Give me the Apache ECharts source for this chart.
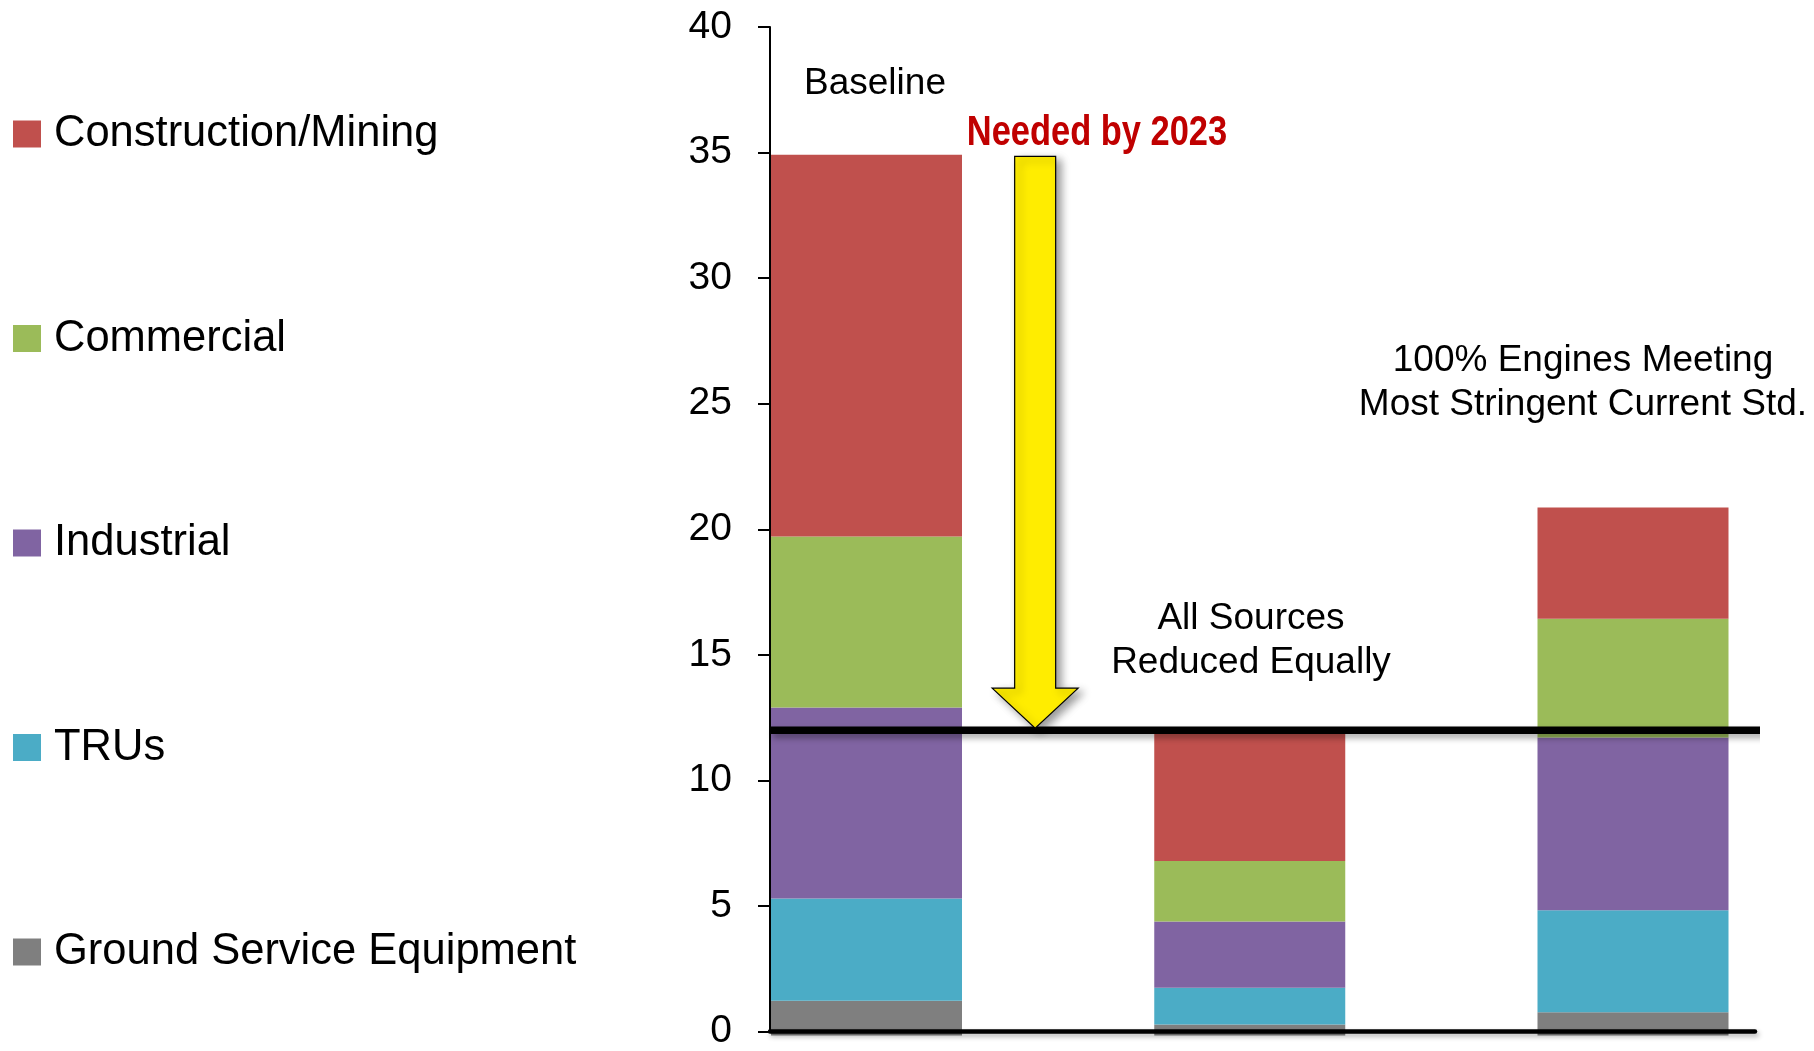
<!DOCTYPE html>
<html><head><meta charset="utf-8">
<script src="https://cdn.jsdelivr.net/npm/echarts@6/dist/echarts.min.js"></script>
<style>html,body{margin:0;padding:0;background:#fff}#c{width:1814px;height:1051px}</style>
</head><body><div id="c"></div>
<script>
// ---- data ----
const scenarios = ['Baseline', 'All Sources Reduced Equally', '100% Engines Meeting Most Stringent Current Std.'];
const seriesNames = ['Construction/Mining', 'Commercial', 'Industrial', 'TRUs', 'Ground Service Equipment'];
const gse = [1.38, 0.44, 0.92];
const trus = [4.05, 1.45, 4.05];
const industrial = [7.58, 2.63, 6.85];
const commercial = [6.78, 2.40, 4.71];
const construction = [15.14, 5.27, 4.41];
const targetLevel = 12;
const yMin = 0, yMax = 40, yStep = 5;

// ---- layout / style ----
const colors = {
  'Construction/Mining': '#C0504D',
  'Commercial': '#9BBB59',
  'Industrial': '#8064A2',
  'TRUs': '#4BACC6',
  'Ground Service Equipment': '#7F7F7F'
};
// visible axis frame in units of bar-slot positions (slot centres at 0,1,2)
const xMin = -0.2518, xMax = 2.318, lineEnd = 2.342;
const regular = '"Liberation Sans", Arial, sans-serif';

const chart = echarts.init(document.getElementById('c'), null, {renderer: 'canvas'});

function barSeries(name, values) {
  return {
    name: name, type: 'bar', stack: 'total', barWidth: 191, clip: false,
    xAxisIndex: 0, yAxisIndex: 0,
    data: values,
    itemStyle: {color: colors[name]},
    emphasis: {disabled: true},
    z: 2
  };
}

const option = {
  animation: false,
  backgroundColor: '#fff',
  grid: [
    {left: 866.5, top: 27, width: 766.5, height: 1008.5},   // bar slot centres (first..last)
    {left: 770, top: 27, width: 985, height: 1008.5}        // visible axes
  ],
  legend: {
    orient: 'vertical', left: 13, top: 104, padding: 0,
    data: seriesNames,
    icon: 'rect', itemWidth: 28, itemHeight: 27, itemGap: 144.5,
    selectedMode: false,
    textStyle: {fontFamily: regular, fontSize: 43.5, color: '#000', lineHeight: 60, padding: [0, 0, 0, 8]}
  },
  xAxis: [
    {gridIndex: 0, type: 'category', data: scenarios, boundaryGap: false, show: false},
    {
      gridIndex: 1, type: 'value', min: xMin, max: xMax, z: 5,
      axisLine: {show: true, onZero: false, lineStyle: {color: '#000', width: 4.5, shadowColor: 'rgba(0,0,0,0.3)', shadowBlur: 5, shadowOffsetY: 3, shadowOffsetX: 2}},
      axisTick: {show: false}, axisLabel: {show: false}, splitLine: {show: false}
    }
  ],
  yAxis: [
    {gridIndex: 0, type: 'value', min: yMin, max: yMax, show: false},
    {
      gridIndex: 1, type: 'value', min: yMin, max: yMax, interval: yStep,
      axisLine: {show: true, onZero: false, lineStyle: {color: '#000', width: 2}},
      axisTick: {show: true, length: 12, lineStyle: {color: '#000', width: 2}},
      axisLabel: {fontFamily: regular, fontSize: 39, color: '#000', margin: 38},
      splitLine: {show: false}
    }
  ],
  series: [
    barSeries('Ground Service Equipment', gse),
    barSeries('TRUs', trus),
    barSeries('Industrial', industrial),
    barSeries('Commercial', commercial),
    barSeries('Construction/Mining', construction),
    {
      name: 'target', type: 'line', clip: false, silent: true, showSymbol: false, symbol: 'none',
      xAxisIndex: 1, yAxisIndex: 1,
      data: [[xMin, targetLevel], [lineEnd, targetLevel]],
      lineStyle: {color: '#000', width: 7.5, cap: 'butt', shadowColor: 'rgba(0,0,0,0.35)', shadowBlur: 6, shadowOffsetX: 3, shadowOffsetY: 4},
      z: 10
    }
  ]
};
chart.setOption(option);

// arrow from baseline total down to target level
const baseTotal = gse[0] + trus[0] + industrial[0] + commercial[0] + construction[0];
const arrowX = 0.44;
const pTop = chart.convertToPixel({xAxisIndex: 1, yAxisIndex: 1}, [arrowX, baseTotal]);
const pTip = chart.convertToPixel({xAxisIndex: 1, yAxisIndex: 1}, [arrowX, targetLevel]);
const shaftHalf = 20.5, headHalf = 43, headLen = 42;
const cx = pTop[0];
const arrowPts = [
  [cx - shaftHalf, pTop[1] + 2], [cx + shaftHalf, pTop[1] + 2],
  [cx + shaftHalf, pTip[1] - headLen], [cx + headHalf, pTip[1] - headLen],
  [cx, pTip[1] - 2], [cx - headHalf, pTip[1] - headLen],
  [cx - shaftHalf, pTip[1] - headLen]
];

chart.setOption({
  graphic: [
    {type: 'polygon', z: 20, shape: {points: arrowPts},
     style: {fill: '#FFED00', stroke: '#000', lineWidth: 1.2, shadowColor: 'rgba(0,0,0,0.4)', shadowBlur: 8, shadowOffsetX: 5, shadowOffsetY: 4}},
    {type: 'text', z: 20, x: 875, y: 84,
     style: {text: scenarios[0], font: '37px ' + regular, fill: '#000', align: 'center', verticalAlign: 'middle'}},
    {type: 'text', z: 20, x: 1097, y: 133, scaleX: 0.82,
     style: {text: 'Needed by 2023', font: 'bold 42px ' + regular, fill: '#C00000', align: 'center', verticalAlign: 'middle'}},
    {type: 'text', z: 20, x: 1251, y: 641,
     style: {text: 'All Sources\nReduced Equally', font: '37px ' + regular, fill: '#000', align: 'center', verticalAlign: 'middle', lineHeight: 44}},
    {type: 'text', z: 20, x: 1583, y: 383,
     style: {text: '100% Engines Meeting\nMost Stringent Current Std.', font: '37px ' + regular, fill: '#000', align: 'center', verticalAlign: 'middle', lineHeight: 44}}
  ]
});
</script></body></html>
